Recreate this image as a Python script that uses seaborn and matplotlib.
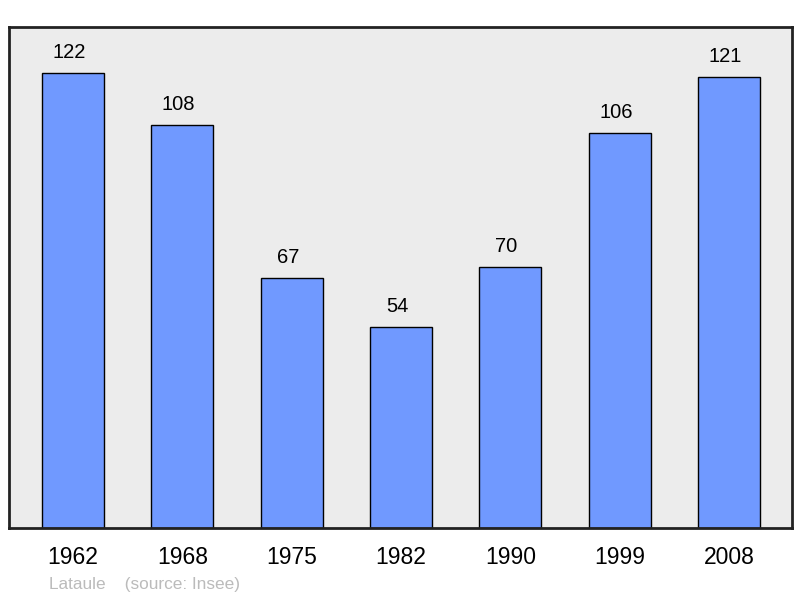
import matplotlib
matplotlib.use("Agg")
import matplotlib.pyplot as plt
import seaborn as sns
import pandas as pd

years = ["1962", "1968", "1975", "1982", "1990", "1999", "2008"]
population = [122, 108, 67, 54, 70, 106, 121]
commune = "Lataule"
source = "(source: Insee)"

sns.set_style("white")
plt.rcParams['font.family'] = ['Liberation Sans', 'DejaVu Sans']

df = pd.DataFrame({"year": years, "pop": population})

fig = plt.figure(figsize=(8, 5.98), dpi=100)
ax = fig.add_axes([9 / 800, 1 - 528 / 598, 783 / 800, 501 / 598])
ax.set_facecolor("#ececec")

sns.barplot(data=df, x="year", y="pop", color="#7099ff", saturation=1,
            width=0.567, edgecolor="black", linewidth=1, ax=ax)

# value labels sit a bit left of the bar centre in the original
for i, v in enumerate(population):
    ax.text(i - 0.035, v + 5.5, str(v), ha="center", va="center", fontsize=14.5, color="black")

ax.set_xlim(-0.585, 6.575)
ax.set_ylim(0, 134.3)
ax.set_xlabel("")
ax.set_ylabel("")
ax.set_yticks([])
ax.tick_params(axis="x", length=0, pad=13, labelsize=16.5, labelcolor="black")
for s in ax.spines.values():
    s.set_linewidth(2)
    s.set_color("#222222")

fig.text(49 / 800, 1 - 584 / 598, commune + "    " + source, fontsize=12.4,
         color="#bbbbbb", ha="left", va="center")

fig.savefig("out.png", dpi=100)
